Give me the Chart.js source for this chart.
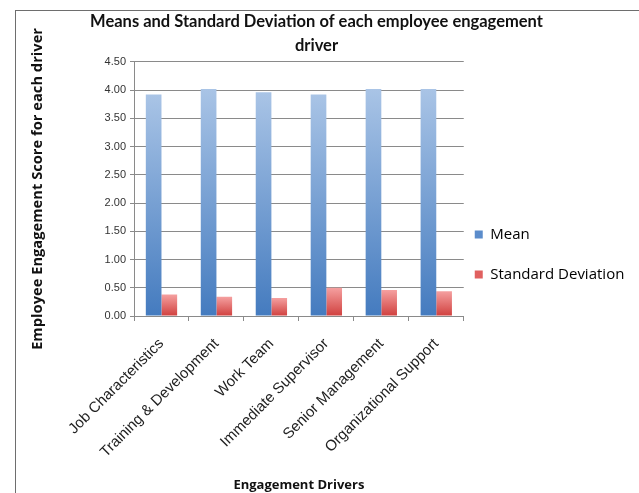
<!DOCTYPE html>
<html>
<head>
<meta charset="utf-8">
<script src="https://cdn.jsdelivr.net/npm/chart.js@4.4.1/dist/chart.umd.min.js"></script>
<style>
  html, body { margin: 0; padding: 0; background: #ffffff; overflow: hidden; }
  #wrap { position: relative; width: 639px; height: 493px; }
  #frame { position: absolute; left: 15px; top: 10px; width: 700px; height: 600px;
           border: 1px solid #6e6e6e; box-sizing: border-box; pointer-events: none; }
  canvas { position: absolute; left: 0; top: 0; }
</style>
</head>
<body>
<div id="wrap">
  <canvas id="chart" width="639" height="493"></canvas>
  <div id="frame"></div>
</div>
<script>
// Engagement drivers and their summary statistics
const drivers = [
  'Job Characteristics',
  'Training & Development',
  'Work Team',
  'Immediate Supervisor',
  'Senior Management',
  'Organizational Support'
];
const means = [3.92, 4.02, 3.96, 3.92, 4.02, 4.02];
const stdDevs = [0.38, 0.34, 0.32, 0.50, 0.46, 0.44];
const yTicks = [0, 0.5, 1, 1.5, 2, 2.5, 3, 3.5, 4, 4.5];

// Vertical gradient spanning each bar from its top down to the baseline
function barGradient(light, dark, fallback) {
  return (ctx) => {
    const chart = ctx.chart;
    if (!chart.chartArea || ctx.raw === undefined) return fallback;
    const y = chart.scales.y;
    const top = y.getPixelForValue(ctx.raw);
    const bottom = y.getPixelForValue(0);
    const g = chart.ctx.createLinearGradient(0, top, 0, bottom);
    g.addColorStop(0, light);
    g.addColorStop(1, dark);
    return g;
  };
}

// Give the legend room up to the canvas edge, just right of the plot,
// and nudge it a little lower than centre
const legendPlace = {
  id: 'legendPlace',
  afterLayout(chart) {
    const lg = chart.legend;
    if (!lg) return;
    const pad = lg.options.labels.padding;
    lg.left = chart.chartArea.right + 11 - pad;
    lg.right = chart.width;
    lg.width = lg.right - lg.left;
    const dy = 8;
    lg.top += dy;
    lg.bottom += dy;
  }
};

new Chart(document.getElementById('chart'), {
  type: 'bar',
  data: {
    labels: drivers,
    datasets: [
      {
        label: 'Mean',
        data: means,
        backgroundColor: barGradient('#a9c4e6', '#447bbf', '#6f9bd2'),
        borderWidth: 0
      },
      {
        label: 'Standard Deviation',
        data: stdDevs,
        backgroundColor: barGradient('#f5a0a0', '#d0403e', '#e26e6e'),
        borderWidth: 0
      }
    ]
  },
  options: {
    responsive: false,
    animation: false,
    layout: { padding: { left: 22, right: 28, top: 0, bottom: 0 } },
    datasets: {
      bar: { categoryPercentage: 0.57, barPercentage: 1.0 }
    },
    plugins: {
      title: {
        display: true,
        text: ['Means and Standard Deviation of each employee engagement', 'driver'],
        color: '#111',
        font: { family: 'Lato', size: 16.5, weight: 'bold', lineHeight: 1.45 },
        padding: { top: 10, bottom: 4 }
      },
      legend: {
        display: true,
        position: 'right',
        labels: {
          color: '#111',
          font: { family: 'Open Sans', size: 15 },
          boxWidth: 8,
          boxHeight: 8,
          padding: 25,
          generateLabels(chart) {
            const cols = ['#5b8ccb', '#e0605f'];
            return chart.data.datasets.map((ds, i) => ({
              text: ds.label,
              fillStyle: cols[i],
              strokeStyle: cols[i],
              lineWidth: 0,
              datasetIndex: i,
              hidden: false
            }));
          }
        }
      },
      tooltip: { enabled: false }
    },
    scales: {
      x: {
        grid: {
          offset: true,
          drawOnChartArea: false,
          drawTicks: true,
          tickLength: 5,
          color: '#8a8a8a'
        },
        border: { color: '#8a8a8a', width: 1 },
        ticks: {
          minRotation: 45,
          maxRotation: 45,
          autoSkip: false,
          padding: 14,
          color: '#222',
          font: { family: 'Liberation Sans', size: 15 }
        },
        title: {
          display: true,
          text: 'Engagement Drivers',
          color: '#111',
          font: { family: 'Open Sans', size: 13, weight: 'bold', lineHeight: 1.2 },
          padding: { top: 0, bottom: 0 }
        },
        afterFit(scale) { scale.height = 177; }
      },
      y: {
        min: 0,
        max: 4.5,
        afterBuildTicks(scale) { scale.ticks = yTicks.map(v => ({ value: v })); },
        grid: {
          color: '#8a8a8a',
          drawTicks: true,
          tickLength: 4
        },
        border: { color: '#8a8a8a', width: 1 },
        ticks: {
          padding: 4,
          color: '#333',
          font: { family: 'Liberation Sans', size: 11 },
          callback: (v) => Number(v).toFixed(2)
        },
        title: {
          display: true,
          text: 'Employee Engagement Score for each driver',
          color: '#111',
          font: { family: 'Open Sans', size: 14.7, weight: 'bold', lineHeight: 1.2 },
          padding: { top: 7, bottom: 0 }
        },
        afterFit(scale) { scale.width = 112; }
      }
    }
  },
  plugins: [legendPlace]
});
</script>
</body>
</html>
